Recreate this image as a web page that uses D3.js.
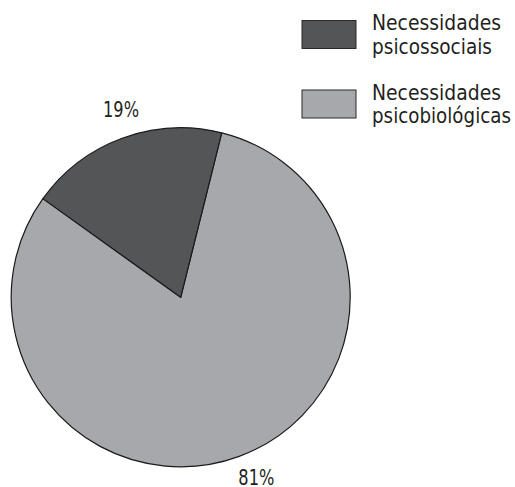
<!DOCTYPE html>
<html><head><meta charset="utf-8">
<script src="https://cdn.jsdelivr.net/npm/d3@7"></script>
<style>
html,body{margin:0;padding:0;background:#fff;}
text{font-family:"DejaVu Sans Condensed","Liberation Sans Narrow","Arial Narrow",sans-serif;font-stretch:condensed;fill:#231f20;}
</style></head>
<body>
<svg id="chart" width="515" height="487"></svg>
<script>
const categories = ["Necessidades psicobiológicas", "Necessidades psicossociais"];
const values = [81, 19];
const labels = ["81%", "19%"];
const legendOrder = [1, 0];
const legendLines = [["Necessidades", "psicossociais"], ["Necessidades", "psicobiológicas"]];
const colors = ["#a7a8ac", "#545557"];

const svg = d3.select("#chart");
const cx = 180.7, cy = 297.3, R = 169.5;
const startDeg = 14;

const pie = d3.pie().sort(null).value(d => d)
  .startAngle(startDeg * Math.PI / 180)
  .endAngle((startDeg + 360) * Math.PI / 180);
const arcs = pie(values);
const arc = d3.arc().innerRadius(0).outerRadius(R);
const labelArc = d3.arc().innerRadius(196).outerRadius(196);

const g = svg.append("g").attr("transform", `translate(${cx},${cy})`);
g.selectAll("path").data(arcs).enter().append("path")
  .attr("d", arc)
  .attr("fill", (d, i) => colors[i])
  .attr("stroke", "#1a1a1a")
  .attr("stroke-width", 1.2)
  .attr("stroke-linejoin", "round");

g.selectAll("text.pct").data(arcs).enter().append("text")
  .attr("class", "pct")
  .attr("x", d => labelArc.centroid(d)[0] + 8)
  .attr("y", d => labelArc.centroid(d)[1] + 4)
  .attr("text-anchor", "middle")
  .attr("font-size", 20.5)
  .attr("textLength", 36)
  .attr("lengthAdjust", "spacingAndGlyphs")
  .text((d, i) => labels[i]);

const textWidths = [[129, 120], [129, 139]];
const lg = svg.append("g");
legendOrder.forEach((ci, k) => {
  const y0 = 20 + k * 69.5;
  lg.append("rect").attr("x", 302).attr("y", y0 + 0.5).attr("width", 54).attr("height", 28)
    .attr("fill", colors[ci]).attr("stroke", "#2a2a2a").attr("stroke-width", 1);
  legendLines[k].forEach((line, j) => {
    lg.append("text").attr("x", 372).attr("y", y0 + 10 + j * 23.5)
      .attr("font-size", 21.5)
      .attr("textLength", textWidths[k][j])
      .attr("lengthAdjust", "spacingAndGlyphs")
      .text(line);
  });
});
</script>
</body></html>
